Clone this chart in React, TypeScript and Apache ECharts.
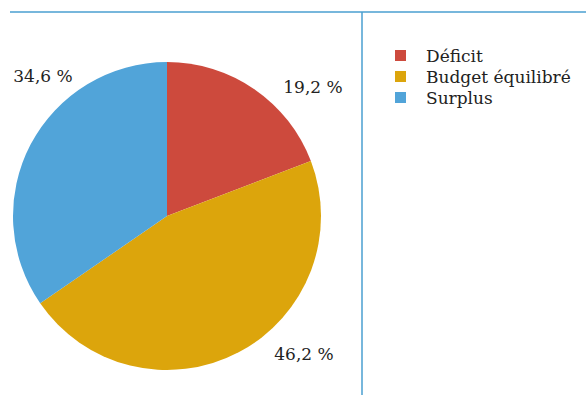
import React, { useEffect, useRef } from "react";
import * as echarts from "echarts";

const categories = ["Déficit", "Budget équilibré", "Surplus"];
const values = [19.2, 46.2, 34.6];
const colors = ["#CD4A3D", "#DCA50C", "#51A4D9"];

const labelPos: [number, number][] = [
  [313, 87],
  [304, 354],
  [43, 76],
];

export default function App() {
  const ref = useRef<HTMLDivElement>(null);
  useEffect(() => {
    document.body.style.margin = "0";
    const chart = echarts.init(ref.current!, null, { renderer: "svg" });
    const font = "DejaVu Serif";
    chart.setOption({
      animation: false,
      color: colors,
      legend: {
        orient: "vertical",
        left: 390,
        top: 42,
        icon: "rect",
        itemWidth: 11,
        itemHeight: 11,
        itemGap: 4,
        selectedMode: false,
        data: categories,
        textStyle: {
          fontFamily: font,
          fontSize: 17,
          color: "#222",
          padding: [0, 0, 0, 15],
        },
      },
      graphic: [
        {
          type: "line",
          shape: { x1: 10, y1: 12, x2: 586, y2: 12 },
          style: { stroke: "#4A9FD1", lineWidth: 1.5 },
        },
        {
          type: "line",
          shape: { x1: 362, y1: 12, x2: 362, y2: 395 },
          style: { stroke: "#4A9FD1", lineWidth: 1.5 },
        },
      ],
      series: [
        {
          type: "pie",
          center: [167, 216],
          radius: 154,
          startAngle: 90,
          clockwise: true,
          silent: true,
          avoidLabelOverlap: false,
          itemStyle: { borderWidth: 0 },
          label: {
            show: true,
            position: "outside",
            fontFamily: font,
            fontSize: 17,
            color: "#222",
            formatter: (p: any) => p.value.toFixed(1).replace(".", ",") + " %",
          },
          labelLine: { show: false },
          labelLayout: (p: any) => ({
            x: labelPos[p.dataIndex][0],
            y: labelPos[p.dataIndex][1],
            align: "center",
            verticalAlign: "middle",
            hideOverlap: false,
          }),
          data: categories.map((c, i) => ({ name: c, value: values[i] })),
        },
      ],
    });
    return () => chart.dispose();
  }, []);
  return <div ref={ref} style={{ width: 586, height: 395 }} />;
}
